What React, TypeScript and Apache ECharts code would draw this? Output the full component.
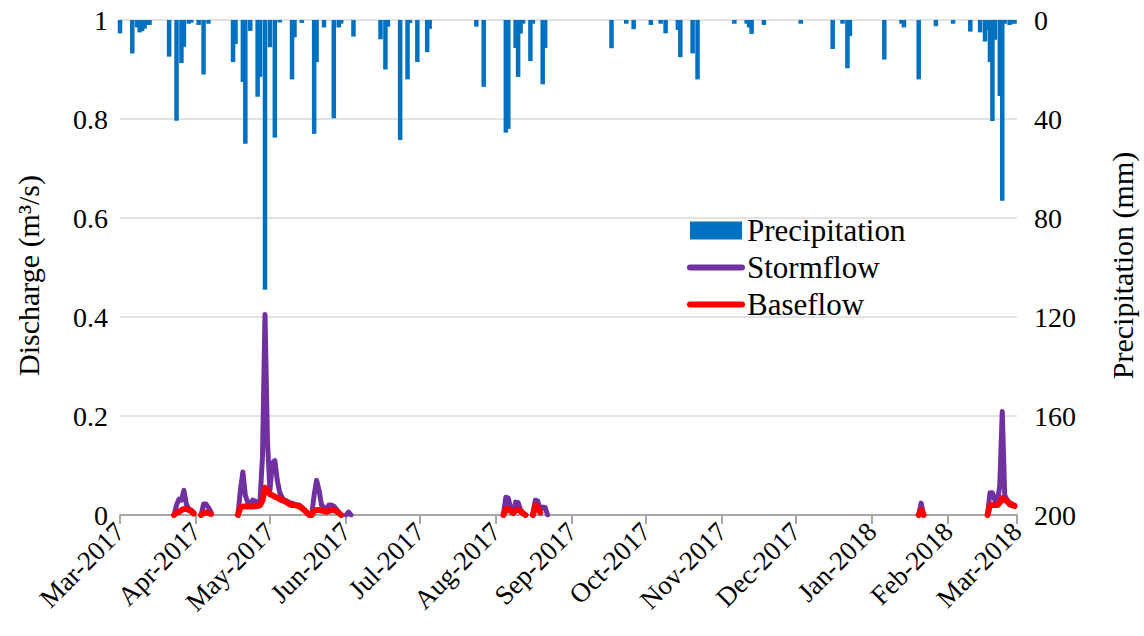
import React, { useEffect, useRef } from "react";
import * as echarts from "echarts";

// Month boundaries used for the x-axis ticks and labels
const monthTicks: string[] = [
  "2017-03-01", "2017-04-01", "2017-05-01", "2017-06-01", "2017-07-01",
  "2017-08-01", "2017-09-01", "2017-10-01", "2017-11-01", "2017-12-01",
  "2018-01-01", "2018-02-01", "2018-03-01",
];
const monthNames = ["Jan", "Feb", "Mar", "Apr", "May", "Jun", "Jul", "Aug", "Sep", "Oct", "Nov", "Dec"];

// Tick values of the two vertical axes
const dischargeTicks = [0, 0.2, 0.4, 0.6, 0.8, 1];
const precipTicks = [0, 40, 80, 120, 160, 200];

// Daily precipitation (mm), rain days only
const precipitation: [string, number][] = [
  ["2017-03-01", 5.4], ["2017-03-06", 13.5], ["2017-03-08", 3], ["2017-03-09", 5],
  ["2017-03-10", 4.5], ["2017-03-11", 3.5], ["2017-03-12", 2], ["2017-03-13", 2],
  ["2017-03-21", 14.8], ["2017-03-24", 40.7], ["2017-03-26", 17.4], ["2017-03-27", 10.8],
  ["2017-03-29", 1.5], ["2017-03-30", 1], ["2017-04-02", 2], ["2017-04-04", 22],
  ["2017-04-06", 1.5], ["2017-04-16", 17], ["2017-04-17", 9.7], ["2017-04-20", 25],
  ["2017-04-21", 50], ["2017-04-23", 4.4], ["2017-04-26", 31], ["2017-04-27", 23],
  ["2017-04-29", 109], ["2017-05-01", 11], ["2017-05-03", 47.5], ["2017-05-05", 1],
  ["2017-05-10", 24], ["2017-05-11", 7], ["2017-05-14", 1.2], ["2017-05-19", 46],
  ["2017-05-20", 17], ["2017-05-23", 3], ["2017-05-27", 39.7], ["2017-05-29", 3],
  ["2017-05-30", 1.5], ["2017-06-04", 6.7], ["2017-06-15", 7.8], ["2017-06-17", 20],
  ["2017-06-18", 2.7], ["2017-06-23", 48.5], ["2017-06-26", 24], ["2017-06-27", 1.2],
  ["2017-06-30", 17], ["2017-07-04", 13], ["2017-07-05", 3.6], ["2017-07-24", 2.7],
  ["2017-07-27", 27], ["2017-08-05", 45.5], ["2017-08-06", 44], ["2017-08-09", 11.3],
  ["2017-08-10", 23], ["2017-08-11", 5.5], ["2017-08-12", 1.5], ["2017-08-15", 16.6],
  ["2017-08-16", 1.5], ["2017-08-20", 26], ["2017-08-21", 11.3], ["2017-09-17", 11.4],
  ["2017-09-23", 1.5], ["2017-09-26", 3.7], ["2017-10-03", 2], ["2017-10-07", 1.5],
  ["2017-10-09", 5.4], ["2017-10-14", 4], ["2017-10-15", 15], ["2017-10-20", 13.5],
  ["2017-10-22", 24], ["2017-11-06", 1.5], ["2017-11-11", 1.5], ["2017-11-12", 3],
  ["2017-11-13", 5.6], ["2017-11-18", 2], ["2017-12-03", 1.5], ["2017-12-16", 11.7],
  ["2017-12-20", 1.5], ["2017-12-22", 19.5], ["2017-12-23", 6.5], ["2018-01-06", 16],
  ["2018-01-13", 1.5], ["2018-01-14", 3], ["2018-01-20", 24], ["2018-01-27", 2.5],
  ["2018-02-03", 1.5], ["2018-02-10", 4.7], ["2018-02-14", 5], ["2018-02-16", 8.7],
  ["2018-02-17", 4], ["2018-02-18", 17], ["2018-02-19", 40.8], ["2018-02-20", 8],
  ["2018-02-22", 30.7], ["2018-02-23", 73], ["2018-02-24", 1.5], ["2018-02-26", 2],
  ["2018-02-27", 1.5], ["2018-02-28", 1.5],
];

// Stormflow events (m3/s): first day, then one value per day
const stormflowEvents: [string, number[]][] = [
  ["2017-03-23", [0, 0.02, 0.032, 0.03, 0.05, 0.022, 0.012, 0.01, 0.005]],
  ["2017-04-03", [0, 0.022, 0.022, 0.015, 0.006]],
  ["2017-04-18", [0, 0.05, 0.087, 0.04, 0.025, 0.022, 0.03, 0.028, 0.025, 0.03,
    0.12, 0.405, 0.15, 0.05, 0.105, 0.11, 0.07, 0.045, 0.035, 0.03,
    0.028, 0.025, 0.024, 0.022, 0.02, 0.02, 0.016, 0.01, 0.005, 0]],
  ["2017-05-18", [0, 0.04, 0.07, 0.05, 0.02, 0.015, 0.012, 0.02, 0.02, 0.018, 0.012, 0.006, 0]],
  ["2017-06-01", [0, 0.006, 0]],
  ["2017-08-04", [0, 0.036, 0.034, 0.012, 0.005, 0.026, 0.025, 0.01, 0.004, 0]],
  ["2017-08-16", [0, 0.03, 0.028, 0.01, 0.016, 0.015, 0]],
  ["2018-01-20", [0, 0.024, 0]],
  ["2018-02-17", [0, 0.045, 0.045, 0.03, 0.025, 0.06, 0.209, 0.04, 0.03, 0.025, 0.022, 0.02]],
];

// Baseflow events (m3/s): first day, then one value per day
const baseflowEvents: [string, number[]][] = [
  ["2017-03-23", [0, 0.005, 0.006, 0.01, 0.012, 0.012, 0.01, 0.008, 0.003]],
  ["2017-04-03", [0, 0.004, 0.005, 0.004, 0.002]],
  ["2017-04-18", [0, 0.016, 0.017, 0.017, 0.017, 0.017, 0.017, 0.018, 0.018, 0.02,
    0.03, 0.055, 0.05, 0.042, 0.04, 0.037, 0.035, 0.032, 0.03, 0.028,
    0.025, 0.022, 0.02, 0.02, 0.019, 0.017, 0.014, 0.01, 0.005, 0]],
  ["2017-05-18", [0, 0.008, 0.01, 0.01, 0.009, 0.008, 0.006, 0.008, 0.01, 0.01, 0.008, 0.004, 0]],
  ["2017-08-04", [0, 0.012, 0.012, 0.008, 0.004, 0.01, 0.01, 0.008, 0.003, 0]],
  ["2017-08-16", [0, 0.02, 0.015, 0.005]],
  ["2018-01-20", [0, 0.01, 0]],
  ["2018-02-17", [0, 0.02, 0.02, 0.02, 0.02, 0.025, 0.034, 0.03, 0.028, 0.022, 0.02, 0.018]],
];

const FONT = "Liberation Serif";
const DAY_MS = 86400000;

// Day offset from the first tick (UTC-based so DST never shifts a day)
function dayIndex(s: string): number {
  const [y, m, d] = s.split("-").map(Number);
  const [y0, m0, d0] = monthTicks[0].split("-").map(Number);
  return Math.round((Date.UTC(y, m - 1, d) - Date.UTC(y0, m0 - 1, d0)) / DAY_MS);
}

function dayLabel(idx: number): string {
  const [y0, m0, d0] = monthTicks[0].split("-").map(Number);
  const dt = new Date(Date.UTC(y0, m0 - 1, d0) + idx * DAY_MS);
  return monthNames[dt.getUTCMonth()] + "-" + dt.getUTCFullYear();
}

// Expand events into [day, value] points, with a gap marker after each event
function expandEvents(events: [string, number[]][]): (number | string)[][] {
  const out: (number | string)[][] = [];
  events.forEach(([start, values]) => {
    const d0 = dayIndex(start);
    values.forEach((v, i) => out.push([d0 + i, v]));
    out.push([d0 + values.length, "-"]);
  });
  return out;
}

const chartCss = `.flow-chart svg text, .flow-chart svg tspan { font-family: "Liberation Serif", serif !important; }`;

function label(x: number, y: number, text: string, size: number, align: string, rotation = 0) {
  return {
    type: "text",
    x,
    y,
    rotation,
    silent: true,
    style: {
      text,
      fontFamily: FONT,
      fontSize: size,
      fill: "#000",
      align,
      verticalAlign: "middle",
    },
  };
}

export default function App() {
  const ref = useRef<HTMLDivElement>(null);

  useEffect(() => {
    if (!ref.current) return;
    const chart = echarts.init(ref.current, undefined, { renderer: "svg" });
    const tickDays = monthTicks.map(dayIndex);
    const precipData = precipitation.map(([d, v]) => [dayIndex(d), v]);
    const hiddenSymbol = { opacity: 0 };

    chart.setOption({
      animation: false,
      backgroundColor: "#ffffff",
      textStyle: { fontFamily: FONT },
      grid: { left: 120, right: 127, top: 20, bottom: 121 },
      legend: {
        orient: "vertical",
        left: 682,
        top: 209,
        itemWidth: 52,
        itemHeight: 18,
        itemGap: 4,
        textStyle: { fontFamily: FONT, fontSize: 31, color: "#000", lineHeight: 33 },
        data: [
          { name: "Precipitation", icon: "rect" },
          { name: "Stormflow", itemStyle: hiddenSymbol, lineStyle: { width: 6 } },
          { name: "Baseflow", itemStyle: hiddenSymbol, lineStyle: { width: 6 } },
        ],
      },
      xAxis: {
        type: "value",
        min: tickDays[0],
        max: tickDays[tickDays.length - 1],
        axisLine: { show: true, lineStyle: { color: "#a6a6a6", width: 2 } },
        axisTick: {
          show: true,
          customValues: tickDays,
          length: 9,
          lineStyle: { color: "#a6a6a6", width: 2 },
        },
        axisLabel: { show: false },
        splitLine: { show: false },
      },
      yAxis: [
        {
          type: "value",
          min: 0,
          max: 1,
          interval: 0.2,
          axisLine: { show: false },
          axisTick: { show: false },
          axisLabel: { show: false },
          splitLine: { show: true, lineStyle: { color: "#d9d9d9", width: 1.5 } },
        },
        {
          type: "value",
          min: 0,
          max: 200,
          interval: 40,
          inverse: true,
          axisLine: { show: false },
          axisTick: { show: false },
          axisLabel: { show: false },
          splitLine: { show: false },
        },
      ],
      series: [
        {
          name: "Precipitation",
          type: "bar",
          yAxisIndex: 1,
          barWidth: 4.5,
          itemStyle: { color: "#0070c0" },
          data: precipData,
        },
        {
          name: "Stormflow",
          type: "line",
          yAxisIndex: 0,
          symbol: "none",
          showSymbol: false,
          connectNulls: false,
          color: "#7030a0",
          lineStyle: { color: "#7030a0", width: 5, cap: "round", join: "round" },
          data: expandEvents(stormflowEvents),
        },
        {
          name: "Baseflow",
          type: "line",
          yAxisIndex: 0,
          symbol: "none",
          showSymbol: false,
          connectNulls: false,
          color: "#ff0000",
          lineStyle: { color: "#ff0000", width: 6, cap: "round", join: "round" },
          data: expandEvents(baseflowEvents),
        },
      ],
    });

    // Serif tick labels and axis titles, placed with the chart's own axis scales
    const px = (v: number) => chart.convertToPixel({ xAxisIndex: 0 }, v) as number;
    const pyLeft = (v: number) => chart.convertToPixel({ yAxisIndex: 0 }, v) as number;
    const pyRight = (v: number) => chart.convertToPixel({ yAxisIndex: 1 }, v) as number;
    const xLeft = px(tickDays[0]);
    const xRight = px(tickDays[tickDays.length - 1]);
    const yBase = pyLeft(0);
    const yTop = pyLeft(1);

    const texts: any[] = [];
    tickDays.forEach((d) => {
      texts.push(label(px(d), yBase + 12, dayLabel(d), 27, "right", Math.PI / 4));
    });
    dischargeTicks.forEach((v) => {
      texts.push(label(xLeft - 12, pyLeft(v), String(v), 28, "right"));
    });
    precipTicks.forEach((v) => {
      texts.push(label(xRight + 17, pyRight(v), String(v), 28, "left"));
    });
    texts.push(label(xLeft - 92, (yTop + yBase) / 2 + 8, "Discharge (m³/s)", 30, "center", Math.PI / 2));
    texts.push(label(xRight + 105, (yTop + yBase) / 2 - 2, "Precipitation (mm)", 30, "center", Math.PI / 2));

    chart.setOption({ graphic: texts });

    return () => chart.dispose();
  }, []);

  return (
    <>
      <style>{chartCss}</style>
      <div
        ref={ref}
        className="flow-chart"
        style={{ position: "absolute", left: 0, top: 0, width: 1144, height: 636 }}
      />
    </>
  );
}
